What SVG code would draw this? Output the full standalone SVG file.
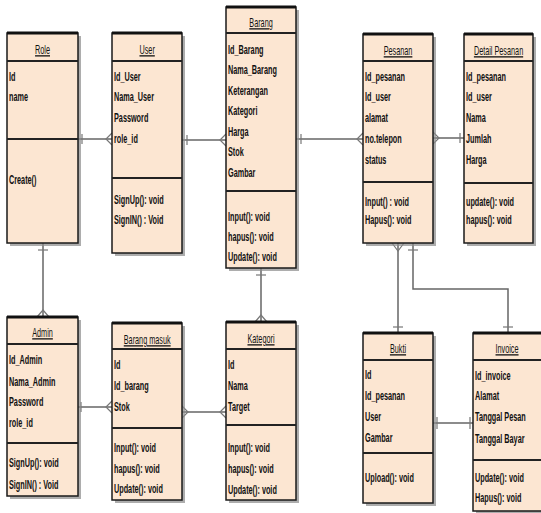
<svg xmlns="http://www.w3.org/2000/svg" width="541" height="513" viewBox="0 0 541 513">
<style>
.bg{fill:#ffffff}
.sh{fill:#8a8a8a;opacity:0.7}
.box{fill:#fce6d2;stroke:#1a1a1a;stroke-width:1.5}
.top{stroke:#111;stroke-width:3}
.sep{stroke:#222;stroke-width:2.2}
text{font-family:"Liberation Sans",Arial,sans-serif;font-size:13px;fill:#111;transform-box:fill-box}
.h{text-anchor:middle;text-decoration:underline;transform-origin:50% 50%;transform:scaleX(0.56)}
.a{font-weight:bold;transform-origin:0 50%;transform:scaleX(0.56)}
.c{stroke:#666;stroke-width:1.5;fill:none}
.k{stroke:#777;stroke-width:1.2;fill:none}
</style>
<rect class="bg" x="0" y="0" width="541" height="513"/>

<g id="connectors">
  <line class="c" x1="78" y1="139" x2="112" y2="139"/>
  <line class="k" x1="82" y1="134" x2="82" y2="144"/>
  <polyline class="k" points="112,133 106,139 112,145"/>
  <line class="c" x1="182" y1="140" x2="226" y2="140"/>
  <line class="k" x1="187" y1="135" x2="187" y2="145"/>
  <polyline class="k" points="226,134 220,140 226,146"/>
  <line class="c" x1="296" y1="139" x2="363" y2="139"/>
  <line class="k" x1="301" y1="134" x2="301" y2="144"/>
  <polyline class="k" points="363,133 357,139 363,145"/>
  <line class="c" x1="433" y1="138" x2="464" y2="138"/>
  <polyline class="k" points="433,132 439,138 433,144"/>
  <line class="k" x1="460" y1="133" x2="460" y2="143"/>
  <line class="c" x1="43" y1="243" x2="43" y2="317"/>
  <line class="k" x1="38" y1="250" x2="48" y2="250"/>
  <polyline class="k" points="37,317 43,310 49,317"/>
  <line class="c" x1="78" y1="407" x2="112" y2="407"/>
  <line class="k" x1="81" y1="402" x2="81" y2="412"/>
  <polyline class="k" points="112,401 106,407 112,413"/>
  <line class="c" x1="182" y1="412" x2="226" y2="412"/>
  <polyline class="k" points="182,406 188,412 182,418"/>
  <polyline class="k" points="226,406 220,412 226,418"/>
  <line class="c" x1="261" y1="268" x2="261" y2="322"/>
  <line class="k" x1="256" y1="275" x2="266" y2="275"/>
  <polyline class="k" points="255,322 261,315 267,322"/>
  <line class="c" x1="398" y1="243" x2="398" y2="333"/>
  <polyline class="k" points="392,243 398,251 404,243"/>
  <line class="k" x1="393" y1="327" x2="403" y2="327"/>
  <polyline class="c" points="413,243 413,289 508,289 508,333"/>
  <line class="k" x1="408" y1="250" x2="418" y2="250"/>
  <line class="k" x1="503" y1="327" x2="513" y2="327"/>
  <line class="c" x1="433" y1="423" x2="473" y2="423"/>
  <line class="k" x1="437" y1="417" x2="437" y2="429"/>
  <line class="k" x1="470" y1="417" x2="470" y2="429"/>
</g>

<g id="role">
  <rect class="sh" x="10" y="36" width="71" height="210"/>
  <rect class="box" x="7" y="33" width="71" height="210"/>
  <line class="top" x1="7" y1="33" x2="78" y2="33"/>
  <line class="sep" x1="7" y1="61" x2="78" y2="61"/>
  <line class="sep" x1="7" y1="139" x2="78" y2="139"/>
  <text class="h" x="42.5" y="54">Role</text>
  <text class="a" x="9" y="81">Id</text>
  <text class="a" x="9" y="101">name</text>
  <text class="a" x="9" y="184">Create()</text>
</g>

<g id="user">
  <rect class="sh" x="115" y="36" width="70" height="220"/>
  <rect class="box" x="112" y="33" width="70" height="220"/>
  <line class="top" x1="112" y1="33" x2="182" y2="33"/>
  <line class="sep" x1="112" y1="61" x2="182" y2="61"/>
  <line class="sep" x1="112" y1="178" x2="182" y2="178"/>
  <text class="h" x="147" y="54">User</text>
  <text class="a" x="114" y="81">Id_User</text>
  <text class="a" x="114" y="101">Nama_User</text>
  <text class="a" x="114" y="122">Password</text>
  <text class="a" x="114" y="143">role_id</text>
  <text class="a" x="114" y="204">SignUp(): void</text>
  <text class="a" x="114" y="224">SignIN() : Void</text>
</g>

<g id="barang">
  <rect class="sh" x="229" y="10" width="70" height="261"/>
  <rect class="box" x="226" y="7" width="70" height="261"/>
  <line class="top" x1="226" y1="7" x2="296" y2="7"/>
  <line class="sep" x1="226" y1="33" x2="296" y2="33"/>
  <line class="sep" x1="226" y1="191" x2="296" y2="191"/>
  <text class="h" x="261" y="27">Barang</text>
  <text class="a" x="228" y="54">Id_Barang</text>
  <text class="a" x="228" y="74">Nama_Barang</text>
  <text class="a" x="228" y="95">Keterangan</text>
  <text class="a" x="228" y="115">Kategori</text>
  <text class="a" x="228" y="136">Harga</text>
  <text class="a" x="228" y="156">Stok</text>
  <text class="a" x="228" y="177">Gambar</text>
  <text class="a" x="228" y="221">Input(): void</text>
  <text class="a" x="228" y="241">hapus(): void</text>
  <text class="a" x="228" y="261">Update(): void</text>
</g>

<g id="pesanan">
  <rect class="sh" x="366" y="37" width="70" height="209"/>
  <rect class="box" x="363" y="34" width="70" height="209"/>
  <line class="top" x1="363" y1="34" x2="433" y2="34"/>
  <line class="sep" x1="363" y1="61" x2="433" y2="61"/>
  <line class="sep" x1="363" y1="182" x2="433" y2="182"/>
  <text class="h" x="398" y="55">Pesanan</text>
  <text class="a" x="365" y="81">Id_pesanan</text>
  <text class="a" x="365" y="101">Id_user</text>
  <text class="a" x="365" y="122">alamat</text>
  <text class="a" x="365" y="143">no.telepon</text>
  <text class="a" x="365" y="164">status</text>
  <text class="a" x="365" y="206">Input() : void</text>
  <text class="a" x="365" y="224">Hapus(): void</text>
</g>

<g id="detail-pesanan">
  <rect class="sh" x="467" y="37" width="69" height="209"/>
  <rect class="box" x="464" y="34" width="69" height="209"/>
  <line class="top" x1="464" y1="34" x2="533" y2="34"/>
  <line class="sep" x1="464" y1="61" x2="533" y2="61"/>
  <line class="sep" x1="464" y1="183" x2="533" y2="183"/>
  <text class="h" x="498.5" y="55">Detail Pesanan</text>
  <text class="a" x="466" y="81">Id_pesanan</text>
  <text class="a" x="466" y="101">Id_user</text>
  <text class="a" x="466" y="122">Nama</text>
  <text class="a" x="466" y="143">Jumlah</text>
  <text class="a" x="466" y="164">Harga</text>
  <text class="a" x="466" y="206">update(): void</text>
  <text class="a" x="466" y="224">hapus(): void</text>
</g>

<g id="admin">
  <rect class="sh" x="10" y="320" width="71" height="179"/>
  <rect class="box" x="7" y="317" width="71" height="179"/>
  <line class="top" x1="7" y1="317" x2="78" y2="317"/>
  <line class="sep" x1="7" y1="344" x2="78" y2="344"/>
  <line class="sep" x1="7" y1="443" x2="78" y2="443"/>
  <text class="h" x="42.5" y="337">Admin</text>
  <text class="a" x="9" y="364">Id_Admin</text>
  <text class="a" x="9" y="386">Nama_Admin</text>
  <text class="a" x="9" y="406">Password</text>
  <text class="a" x="9" y="427">role_id</text>
  <text class="a" x="9" y="467">SignUp(): void</text>
  <text class="a" x="9" y="489">SignIN() : Void</text>
</g>

<g id="barang-masuk">
  <rect class="sh" x="115" y="326" width="70" height="177"/>
  <rect class="box" x="112" y="323" width="70" height="177"/>
  <line class="top" x1="112" y1="323" x2="182" y2="323"/>
  <line class="sep" x1="112" y1="349" x2="182" y2="349"/>
  <line class="sep" x1="112" y1="428" x2="182" y2="428"/>
  <text class="h" x="147" y="344">Barang masuk</text>
  <text class="a" x="114" y="369">Id</text>
  <text class="a" x="114" y="390">Id_barang</text>
  <text class="a" x="114" y="411">Stok</text>
  <text class="a" x="114" y="452">Input(): void</text>
  <text class="a" x="114" y="473">hapus(): void</text>
  <text class="a" x="114" y="493">Update(): void</text>
</g>

<g id="kategori">
  <rect class="sh" x="229" y="325" width="70" height="178"/>
  <rect class="box" x="226" y="322" width="70" height="178"/>
  <line class="top" x1="226" y1="322" x2="296" y2="322"/>
  <line class="sep" x1="226" y1="349" x2="296" y2="349"/>
  <line class="sep" x1="226" y1="425" x2="296" y2="425"/>
  <text class="h" x="261" y="343">Kategori</text>
  <text class="a" x="228" y="369">Id</text>
  <text class="a" x="228" y="390">Nama</text>
  <text class="a" x="228" y="411">Target</text>
  <text class="a" x="228" y="452">Input(): void</text>
  <text class="a" x="228" y="473">hapus(): void</text>
  <text class="a" x="228" y="494">Update(): void</text>
</g>

<g id="bukti">
  <rect class="sh" x="366" y="336" width="70" height="170"/>
  <rect class="box" x="363" y="333" width="70" height="170"/>
  <line class="top" x1="363" y1="333" x2="433" y2="333"/>
  <line class="sep" x1="363" y1="360" x2="433" y2="360"/>
  <line class="sep" x1="363" y1="453" x2="433" y2="453"/>
  <text class="h" x="398" y="353">Bukti</text>
  <text class="a" x="365" y="379">Id</text>
  <text class="a" x="365" y="400">Id_pesanan</text>
  <text class="a" x="365" y="421">User</text>
  <text class="a" x="365" y="442">Gambar</text>
  <text class="a" x="365" y="482">Upload(): void</text>
</g>

<g id="invoice">
  <rect class="sh" x="476" y="336" width="70" height="178"/>
  <rect class="box" x="473" y="333" width="70" height="178"/>
  <line class="top" x1="473" y1="333" x2="543" y2="333"/>
  <line class="sep" x1="473" y1="360" x2="543" y2="360"/>
  <line class="sep" x1="473" y1="460" x2="543" y2="460"/>
  <text class="h" x="507" y="353">Invoice</text>
  <text class="a" x="475" y="380">Id_invoice</text>
  <text class="a" x="475" y="400">Alamat</text>
  <text class="a" x="475" y="421">Tanggal Pesan</text>
  <text class="a" x="475" y="443">Tanggal Bayar</text>
  <text class="a" x="475" y="482">Update(): void</text>
  <text class="a" x="475" y="502">Hapus(): void</text>
</g>
</svg>
